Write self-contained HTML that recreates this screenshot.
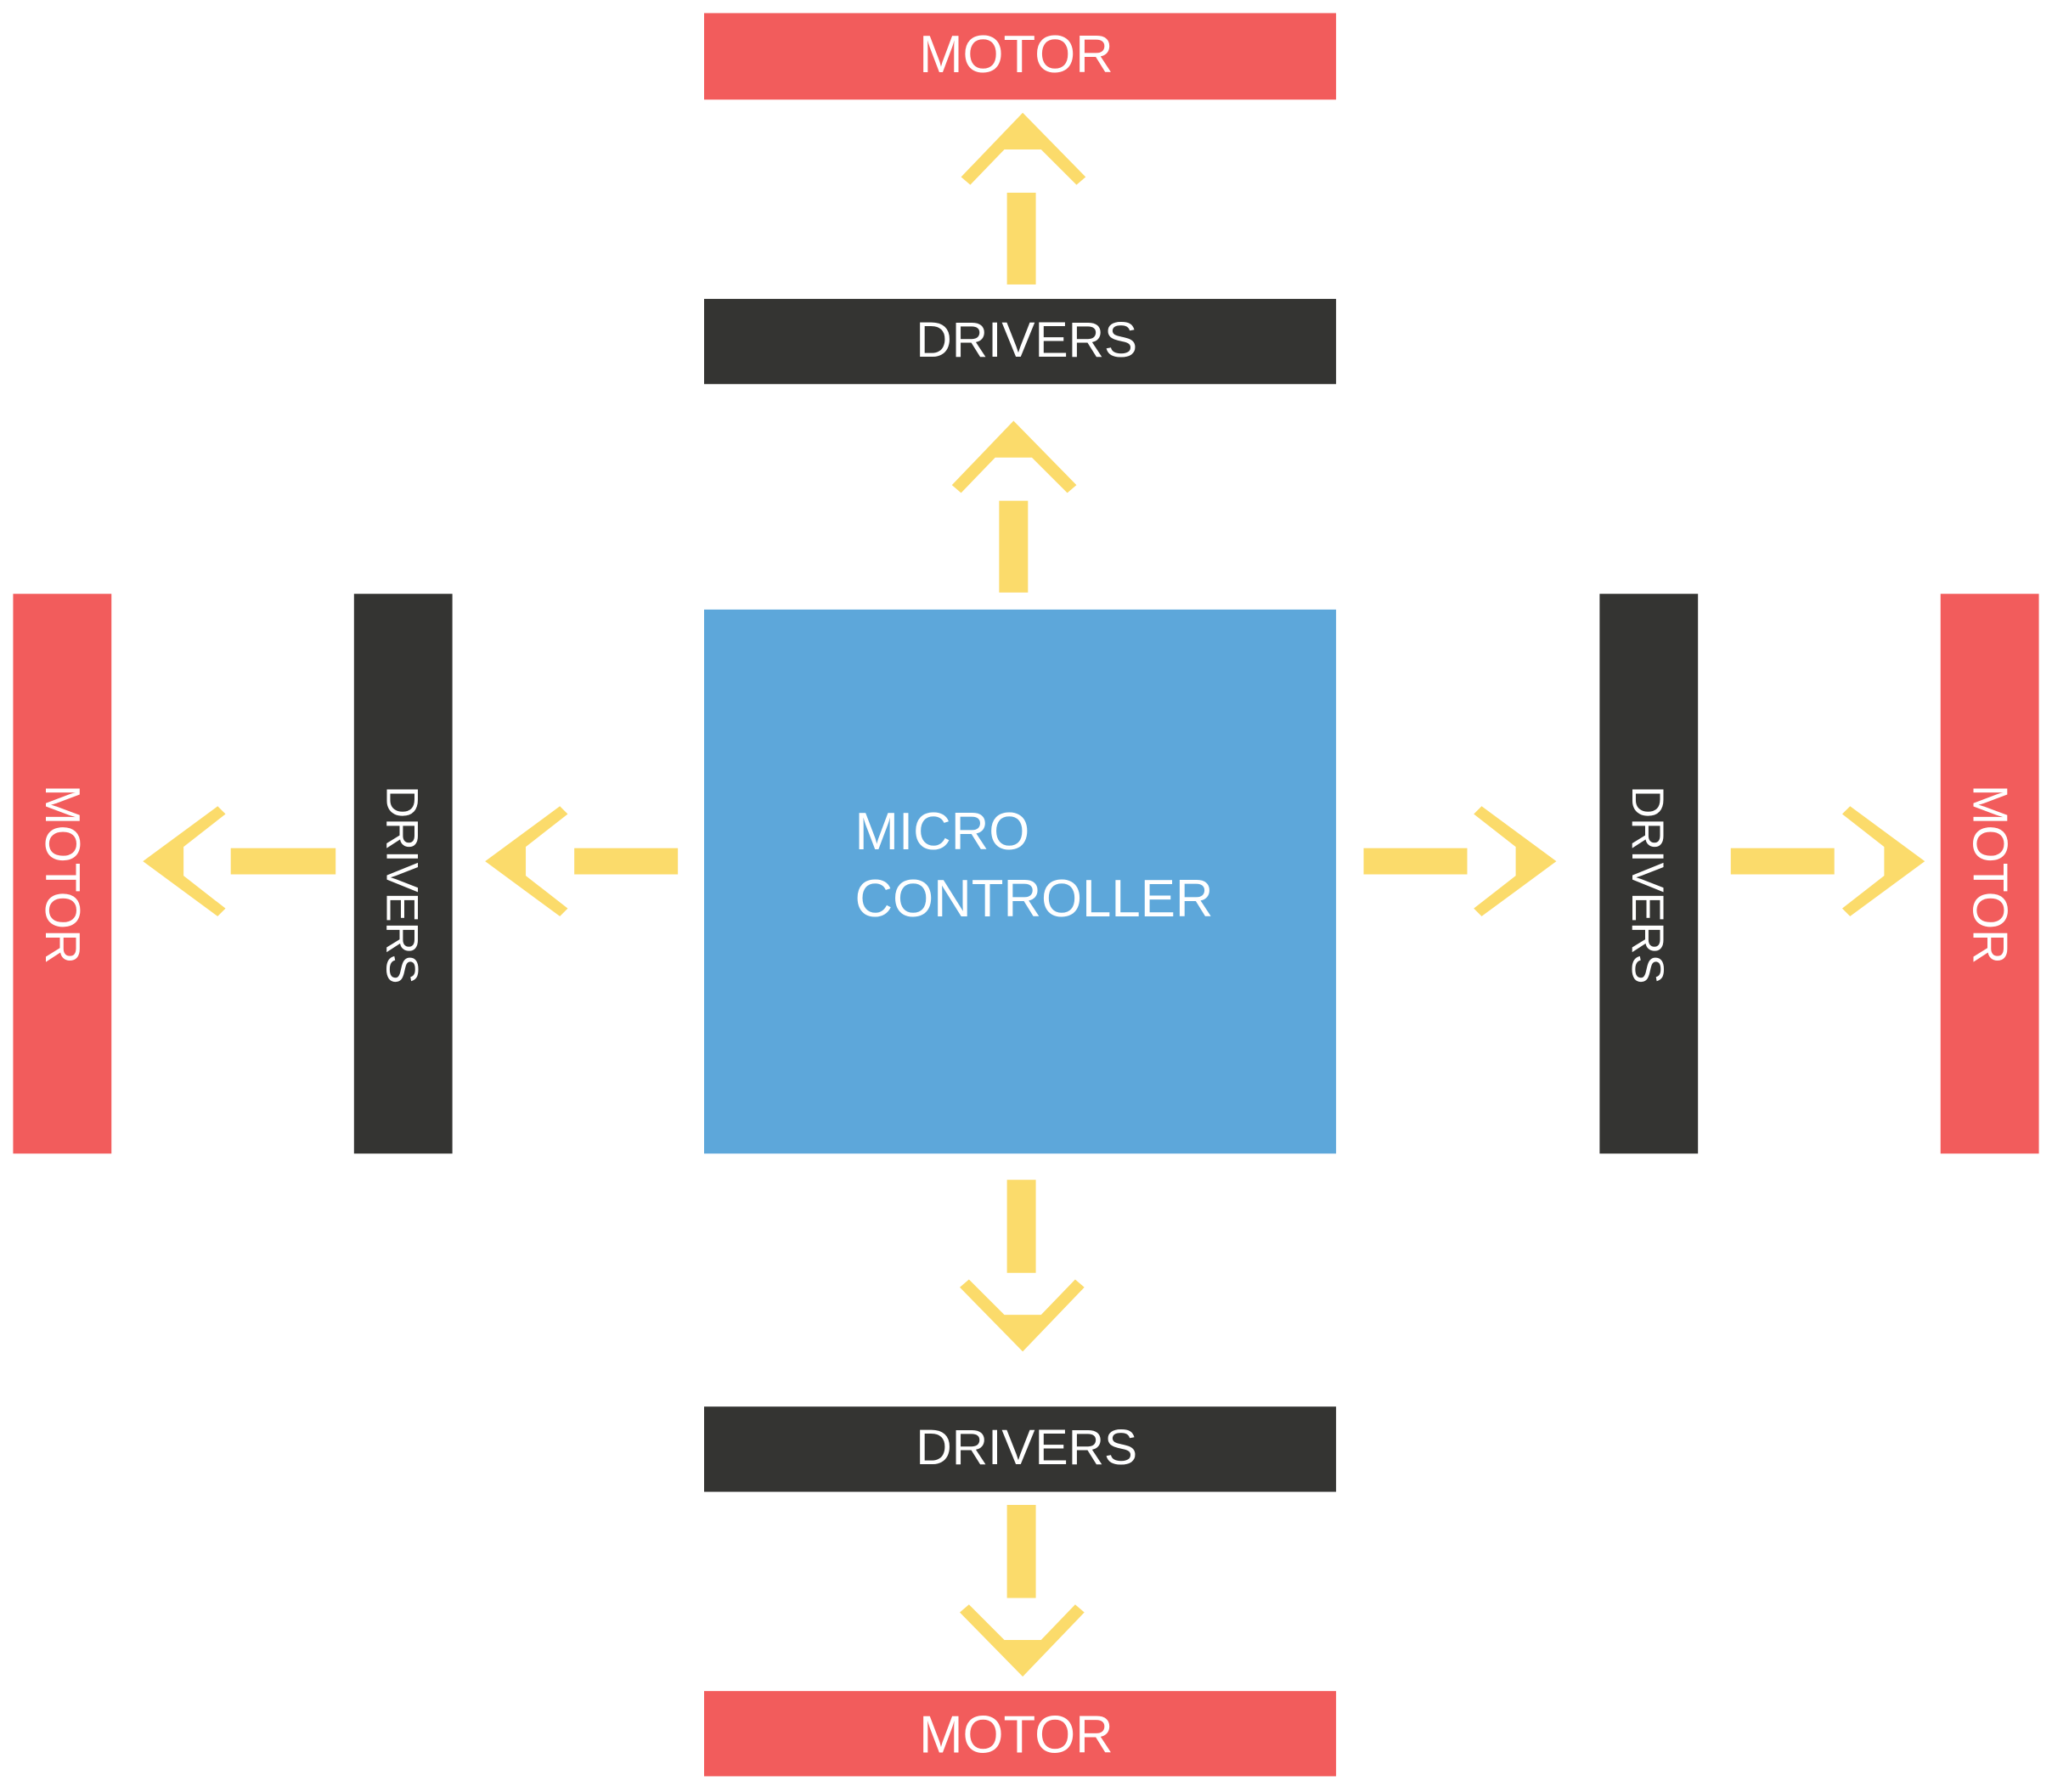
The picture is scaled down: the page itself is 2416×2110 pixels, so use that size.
<!DOCTYPE html>
<html><head><style>
html,body{margin:0;padding:0;background:#fff;}
svg{display:block;}
text{font-family:"Liberation Sans",sans-serif;fill:#fff;font-size:40px;}
</style></head><body>
<svg width="2416" height="2110" viewBox="0 0 1565 1367" preserveAspectRatio="none" xmlns="http://www.w3.org/2000/svg">
<defs>
<polygon id="hu" points="0,-28 48,21 41,27 14,0 -14,0 -40,27 -47,21" fill="#FBDB6B"/>
<polygon id="hl" points="-31,0 26,-42 32,-36 0,-11 0,11 32,36 26,42" fill="#FBDB6B"/>
</defs>
<!-- top -->
<rect x="537" y="10" width="482" height="66" fill="#F25C5C"/>
<text x="775" y="55" text-anchor="middle">MOTOR</text>
<use href="#hu" x="780" y="114"/>
<rect x="768" y="147" width="22" height="70" fill="#FBDB6B"/>
<rect x="537" y="228" width="482" height="65" fill="#343432"/>
<text x="783" y="272" text-anchor="middle" style="font-size:38px">DRIVERS</text>
<use href="#hu" x="773" y="349"/>
<rect x="762" y="382" width="22" height="70" fill="#FBDB6B"/>
<!-- MCU -->
<rect x="537" y="465" width="482" height="415" fill="#5DA7DA"/>
<text x="652" y="648">MICRO</text>
<text x="652" y="699">CONTROLLER</text>
<!-- bottom -->
<rect x="768" y="900" width="22" height="71" fill="#FBDB6B"/>
<use href="#hu" x="780" y="1003" transform="rotate(180 780 1003)"/>
<rect x="537" y="1073" width="482" height="65" fill="#343432"/>
<text x="783" y="1117" text-anchor="middle" style="font-size:38px">DRIVERS</text>
<rect x="768" y="1148" width="22" height="71" fill="#FBDB6B"/>
<use href="#hu" x="780" y="1251" transform="rotate(180 780 1251)"/>
<rect x="537" y="1290" width="482" height="65" fill="#F25C5C"/>
<text x="775" y="1337" text-anchor="middle">MOTOR</text>
<!-- left -->
<rect x="10" y="453" width="75" height="427" fill="#F25C5C"/>
<text transform="translate(35,667) rotate(90)" text-anchor="middle" style="font-size:37px">MOTOR</text>
<use href="#hl" x="140" y="657"/>
<rect x="176" y="647" width="80" height="20" fill="#FBDB6B"/>
<rect x="270" y="453" width="75" height="427" fill="#343432"/>
<text transform="translate(295,675) rotate(90)" text-anchor="middle" style="font-size:34px">DRIVERS</text>
<use href="#hl" x="401" y="657"/>
<rect x="438" y="647" width="79" height="20" fill="#FBDB6B"/>
<!-- right -->
<rect x="1040" y="647" width="79" height="20" fill="#FBDB6B"/>
<use href="#hl" x="1156" y="657" transform="rotate(180 1156 657)"/>
<rect x="1220" y="453" width="75" height="427" fill="#343432"/>
<text transform="translate(1245,675) rotate(90)" text-anchor="middle" style="font-size:34px">DRIVERS</text>
<rect x="1320" y="647" width="79" height="20" fill="#FBDB6B"/>
<use href="#hl" x="1437" y="657" transform="rotate(180 1437 657)"/>
<rect x="1480" y="453" width="75" height="427" fill="#F25C5C"/>
<text transform="translate(1505,667) rotate(90)" text-anchor="middle" style="font-size:37px">MOTOR</text>
</svg>
</body></html>
